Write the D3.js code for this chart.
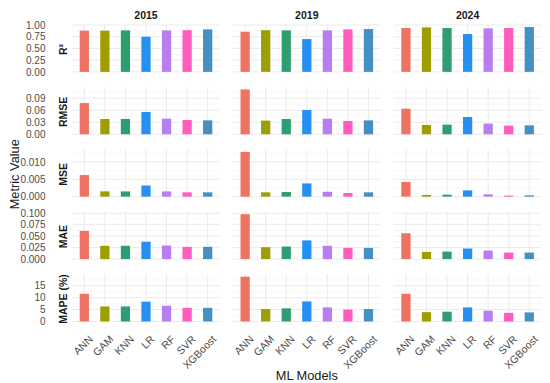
<!DOCTYPE html>
<html><head><meta charset="utf-8">
<script src="https://cdn.jsdelivr.net/npm/d3@7"></script>
<style>body{margin:0;background:#fff;}svg{display:block;font-family:"Liberation Sans",Arial,sans-serif;}</style>
</head><body><svg id="c" width="550" height="383"></svg>
<script>
const models = ["ANN","GAM","KNN","LR","RF","SVR","XGBoost"];
const years = ["2015","2019","2024"];
const metrics = ["R²","RMSE","MSE","MAE","MAPE (%)"];
const colors = ["#EE7262","#9E9E00","#2E9E72","#2590F2","#B87DF0","#FF5CBD","#4590C2"];
// values[metric][year] per model
const r2 = [[0.88,0.88,0.886,0.75,0.886,0.89,0.907],[0.857,0.89,0.886,0.70,0.886,0.907,0.914],[0.936,0.95,0.936,0.807,0.929,0.936,0.957]];
const rmse = [[0.0777,0.038,0.038,0.0554,0.0389,0.0356,0.0347],[0.1117,0.034,0.038,0.0604,0.0389,0.033,0.0347],[0.0637,0.0232,0.024,0.043,0.0265,0.0215,0.0223]];
const mse = [[0.0062,0.00152,0.0015,0.0032,0.0015,0.00124,0.00124],[0.01286,0.00124,0.00133,0.0038,0.0014,0.00105,0.00124],[0.0042,0.00048,0.00057,0.0018,0.00067,0.0003,0.00038]];
const mae = [[0.0615,0.0289,0.0289,0.0378,0.0296,0.0267,0.0267],[0.0978,0.026,0.0274,0.0407,0.0289,0.0244,0.0244],[0.0563,0.0156,0.0163,0.023,0.0185,0.0141,0.0141]];
const mape = [[11.6,6.3,6.3,8.3,6.6,5.7,5.7],[18.8,5.2,5.5,8.4,5.9,5.0,5.2],[11.6,3.9,4.1,5.9,4.5,3.6,3.8]];
const metricValues = [r2,rmse,mse,mae,mape];
const yTicks = [[0,0.25,0.5,0.75,1.0],[0,0.03,0.06,0.09],[0,0.005,0.010],[0,0.025,0.05,0.075,0.1],[0,5,10,15]];
const tickFmt = [d3.format(".2f"),d3.format(".2f"),d3.format(".3f"),d3.format(".3f"),d3.format("d")];

const svg = d3.select("#c");
const left0 = 72, pw = 148, gapX = 12.8;
const top0 = 24.8, ph = 49.3, stepY = 62.4;

metrics.forEach((m, ri) => {
  const vals = metricValues[ri];
  const maxV = d3.max(vals.flat());
  const ex = maxV * 0.05;
  const py = top0 + ri * stepY;
  const y = d3.scaleLinear().domain([-ex, maxV + ex]).range([py + ph, py]);
  const ticks = yTicks[ri];
  const st = ticks[1] - ticks[0];
  const minor = ticks.map(t => t + st / 2).filter(v => v <= maxV + ex);
  years.forEach((yr, ci) => {
    const px = left0 + ci * (pw + gapX);
    const unit = pw / 7.2;
    const x = d3.scalePoint().domain(models).range([px + 0.6 * unit, px + pw - 0.6 * unit]);
    const g = svg.append("g");
    g.selectAll(".mn").data(minor).join("line")
      .attr("x1", px).attr("x2", px + pw).attr("y1", d => y(d)).attr("y2", d => y(d))
      .attr("stroke", "#F3F3F3").attr("stroke-width", 0.6);
    g.selectAll(".mj").data(ticks.filter(t => t <= maxV + ex)).join("line")
      .attr("x1", px).attr("x2", px + pw).attr("y1", d => y(d)).attr("y2", d => y(d))
      .attr("stroke", "#EBEBEB").attr("stroke-width", 1);
    g.selectAll(".vg").data(models).join("line")
      .attr("x1", d => x(d)).attr("x2", d => x(d)).attr("y1", py).attr("y2", py + ph)
      .attr("stroke", "#EBEBEB").attr("stroke-width", 1);
    const bw = unit * 0.45;
    g.selectAll("rect").data(vals[ci]).join("rect")
      .attr("x", (d, i) => x(models[i]) - bw / 2).attr("width", bw)
      .attr("y", d => y(d)).attr("height", d => y(0) - y(d))
      .attr("fill", (d, i) => colors[i]);
    if (ri === 0) {
      svg.append("text").attr("x", px + pw / 2).attr("y", 19).attr("text-anchor", "middle")
        .attr("font-size", 10.5).attr("font-weight", "bold").attr("fill", "#1A1A1A").text(yr);
    }
    if (ri === metrics.length - 1) {
      models.forEach(mm => {
        svg.append("text").attr("transform", `translate(${x(mm)+4},${py + ph + 11}) rotate(-45)`)
          .attr("text-anchor", "end").attr("font-size", 10.5).attr("fill", "#4D4D4D")
          .attr("dy", "0.7em").text(mm);
      });
    }
  });
  const ax = svg.append("g").attr("transform", `translate(45.5,0)`)
    .call(d3.axisLeft(y).tickValues(ticks.filter(t => t <= maxV + ex)).tickFormat(tickFmt[ri]).tickSize(0).tickPadding(0));
  ax.select(".domain").remove();
  ax.selectAll("text").attr("font-size", 10).attr("fill", "#4D4D4D").attr("font-family", "Liberation Sans, Arial, sans-serif");
  svg.append("text").attr("transform", `translate(63,${py + ph / 2}) rotate(-90)`)
    .attr("text-anchor", "middle").attr("dy", "0.35em").attr("font-size", 10.5).attr("font-weight", "bold")
    .attr("fill", "#1A1A1A").text(m);
});
svg.append("text").attr("x", left0 + (3 * pw + 2 * gapX) / 2).attr("y", 380).attr("text-anchor", "middle")
  .attr("font-size", 12.8).attr("fill", "#1A1A1A").text("ML Models");
svg.append("text").attr("transform", `translate(15,${top0 + (4 * stepY + ph) / 2}) rotate(-90)`)
  .attr("text-anchor", "middle").attr("dy", "0.35em").attr("font-size", 12.8).attr("fill", "#1A1A1A").text("Metric Value");
</script></body></html>
